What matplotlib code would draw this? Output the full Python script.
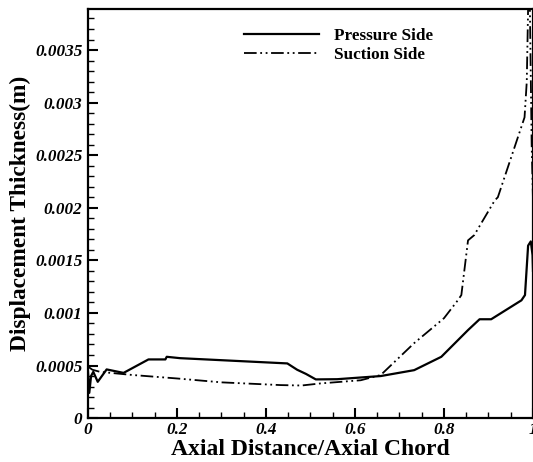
import matplotlib
matplotlib.use("Agg")
import matplotlib.pyplot as plt
from matplotlib.ticker import MultipleLocator, FuncFormatter

# pressure side (solid)
x_ps = [0.0, 0.003, 0.007, 0.012, 0.022, 0.042, 0.08, 0.136, 0.174, 0.177, 0.207,
        0.448, 0.47, 0.49, 0.512, 0.56, 0.658, 0.733, 0.794, 0.854, 0.88, 0.906,
        0.974, 0.982, 0.989, 0.995, 0.999, 1.0]
y_ps = [0.00045, 0.00024, 0.0004, 0.00044, 0.000345, 0.000463, 0.00043, 0.000558, 0.000558,
        0.000583, 0.00057, 0.00052, 0.00046, 0.00042, 0.000368, 0.00037, 0.0004, 0.000456,
        0.000583, 0.000837, 0.00094, 0.00094, 0.00112, 0.00117, 0.00164, 0.00168, 0.00155,
        0.0014]

# suction side (dash-dot-dot)
x_ss = [0.0, 0.01, 0.027, 0.1, 0.2, 0.3, 0.433, 0.48, 0.523, 0.613, 0.658, 0.733, 0.8, 0.831,
        0.839, 0.854, 0.868, 0.914, 0.921, 0.981, 0.986, 0.989, 0.993, 0.997, 1.0]
y_ss = [0.00049, 0.00046, 0.00044, 0.00041, 0.000377, 0.00034, 0.000314, 0.00031, 0.00033,
        0.00036, 0.00041, 0.000713, 0.00095, 0.00112, 0.00117, 0.00169, 0.00174, 0.00207,
        0.0021, 0.00286, 0.0032, 0.0039, 0.0039, 0.0026, 0.00207]

fig = plt.figure(figsize=(5.33, 4.62), dpi=100)
ax = fig.add_axes([0.165, 0.095, 0.835, 0.8855])

ax.plot(x_ps, y_ps, color="black", lw=1.6, label="Pressure Side")
ax.plot(x_ss, y_ss, color="black", lw=1.3, dashes=[7, 2, 1, 2, 1, 2], label="Suction Side")

ax.set_xlim(0, 1)
ax.set_ylim(0, 0.00389)

ax.xaxis.set_major_locator(MultipleLocator(0.2))
ax.xaxis.set_minor_locator(MultipleLocator(0.05))
ax.yaxis.set_major_locator(MultipleLocator(0.0005))
ax.yaxis.set_minor_locator(MultipleLocator(0.0001))
ax.xaxis.set_major_formatter(FuncFormatter(lambda v, p: "%g" % round(v, 6)))
ax.yaxis.set_major_formatter(FuncFormatter(lambda v, p: "%g" % round(v, 6)))

ax.tick_params(which="both", direction="in", top=False, right=False)
ax.tick_params(which="major", length=7, width=1.5, pad=4)
ax.tick_params(axis="x", which="major", pad=3)
ax.tick_params(which="minor", length=4, width=1)
for lab in ax.get_xticklabels() + ax.get_yticklabels():
    lab.set_family("Liberation Serif")
    lab.set_weight("bold")
    lab.set_style("italic")
    lab.set_fontsize(12.3)

for s in ax.spines.values():
    s.set_linewidth(1.6)

ax.set_xlabel("Axial Distance/Axial Chord", family="Liberation Serif", weight="bold",
              fontsize=17, labelpad=-2)
ax.xaxis.set_label_coords(0.5, -0.051, transform=ax.transAxes)
ax.xaxis.label.set_va("top")
ax.set_ylabel("Displacement Thickness(m)", family="Liberation Serif", weight="bold",
              fontsize=16.8, labelpad=3)

leg = ax.legend(loc="upper left", bbox_to_anchor=(0.315, 0.992), frameon=False,
                prop={"family": "Liberation Serif", "weight": "bold", "size": 12.3},
                handlelength=4.4, handletextpad=0.9, labelspacing=0.2)

fig.savefig("out.png", dpi=100)
